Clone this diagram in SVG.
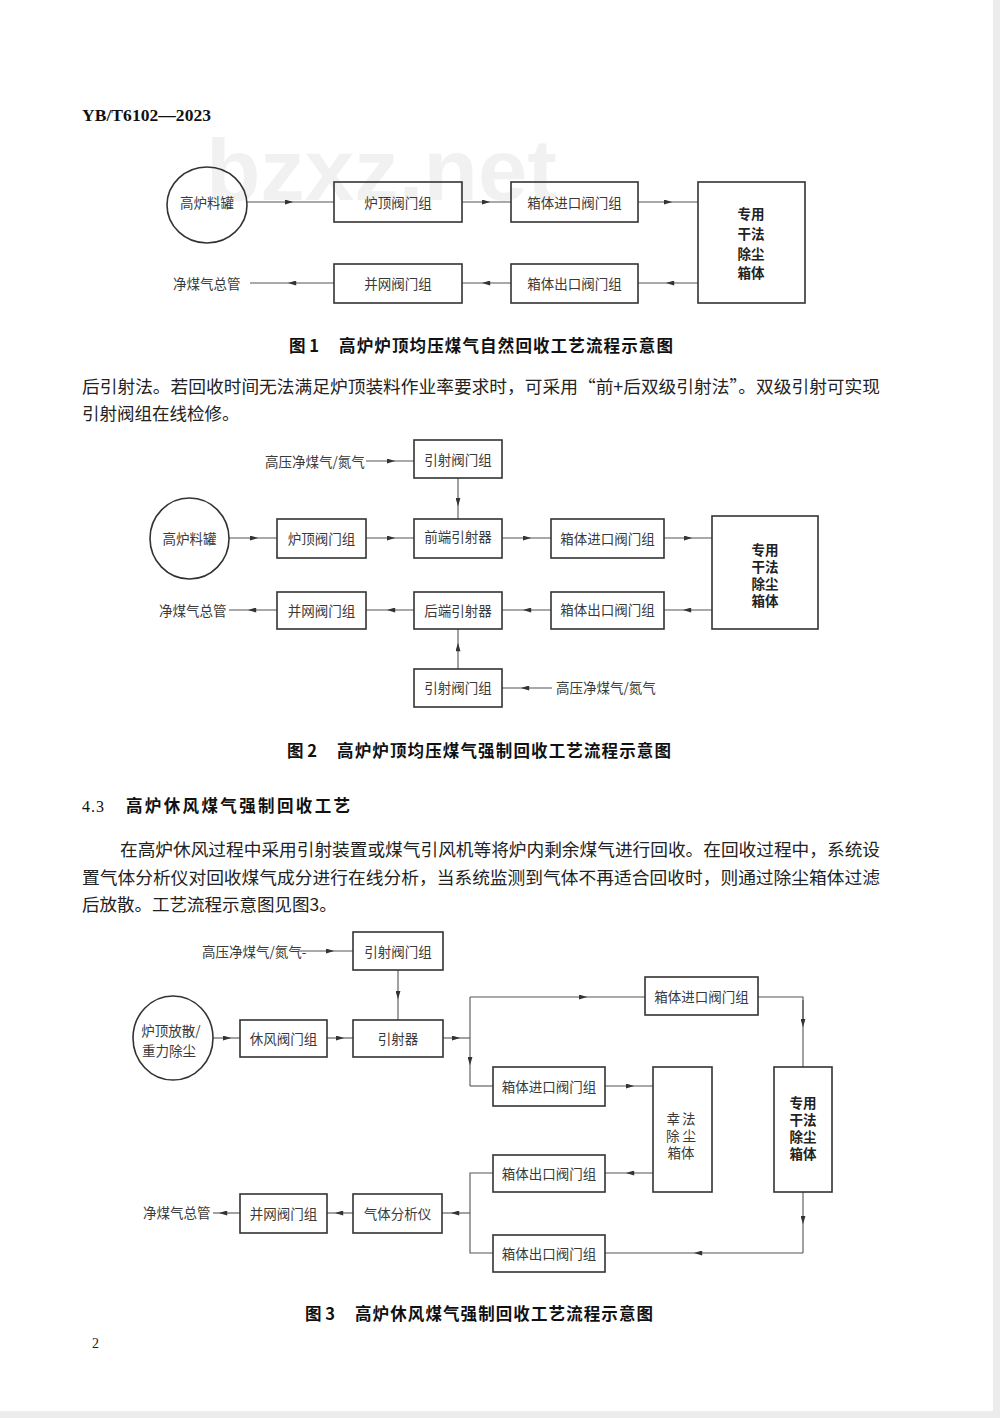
<svg xmlns="http://www.w3.org/2000/svg" width="1000" height="1418" viewBox="0 0 1000 1418">
<style>
.pg{fill:#ffffff}
.box{fill:none;stroke:#333;stroke-width:1.6}
.ln{fill:none;stroke:#555;stroke-width:1.1;marker-mid:url(#ah)}
.pl{fill:none;stroke:#555;stroke-width:1.1}
.lbl{font-family:"Noto Sans CJK SC",sans-serif;font-size:13.5px;fill:#3a3a3a;text-anchor:middle;dominant-baseline:central}
.lbs{font-family:"Noto Sans CJK SC",sans-serif;font-size:13.5px;fill:#3a3a3a;dominant-baseline:central}
.big{font-family:"Noto Sans CJK SC",sans-serif;font-size:13.5px;font-weight:bold;fill:#222;text-anchor:middle;dominant-baseline:central}
.body{font-family:"Noto Sans CJK SC",sans-serif;font-size:17.5px;fill:#222;dominant-baseline:central}
.cap{font-family:"Noto Sans CJK SC",sans-serif;font-size:16.5px;font-weight:bold;fill:#111;dominant-baseline:central}
.wm{font-family:"Liberation Sans",sans-serif;font-size:88px;font-weight:bold;fill:#f1f1f1}
</style>
<defs>
<marker id="ah" viewBox="0 0 10 6" refX="5" refY="3" markerWidth="9" markerHeight="5" markerUnits="userSpaceOnUse" orient="auto">
<path d="M0,0 L10,3 L0,6 z" fill="#333"/>
</marker>
</defs>
<rect x="0" y="0" width="1000" height="1418" fill="#ececec"/>
<rect class="pg" x="0" y="0" width="993" height="1411"/>

<text x="82" y="121" font-family="Liberation Serif,serif" font-size="17.5" font-weight="bold" fill="#111" textLength="129">YB/T6102—2023</text>
<text class="wm" x="206" y="200" textLength="351" lengthAdjust="spacingAndGlyphs">bzxz.net</text>

<!-- Figure 1 -->
<g id="fig1-connectors">
<path class="ln" d="M247,202 L289,202 L334,202"/>
<path class="ln" d="M462,202 L486,202 L511,202"/>
<path class="ln" d="M638,202 L668,202 L698,202"/>
<path class="ln" d="M698,283 L670,283 L638,283"/>
<path class="ln" d="M511,283 L486,283 L462,283"/>
<path class="ln" d="M334,283 L292,283 L250,283"/>
</g>
<g id="f1-tank"><ellipse class="box" cx="207" cy="205" rx="40" ry="38"/><text class="lbl" x="207" y="202">高炉料罐</text></g>
<g id="f1-topvalve"><rect class="box" x="334" y="182" width="128" height="40"/><text class="lbl" x="398" y="202">炉顶阀门组</text></g>
<g id="f1-inlet"><rect class="box" x="511" y="182" width="127" height="40"/><text class="lbl" x="574.5" y="202">箱体进口阀门组</text></g>
<g id="f1-dust"><rect class="box" x="698" y="182" width="107" height="121"/>
<text class="big" x="751" y="213">专用</text><text class="big" x="751" y="233">干法</text><text class="big" x="751" y="253">除尘</text><text class="big" x="751" y="272">箱体</text></g>
<g id="f1-outlet"><rect class="box" x="511" y="264" width="127" height="39"/><text class="lbl" x="574.5" y="283">箱体出口阀门组</text></g>
<g id="f1-grid"><rect class="box" x="334" y="264" width="128" height="39"/><text class="lbl" x="398" y="283">并网阀门组</text></g>
<g id="f1-main"><text class="lbs" x="173" y="283">净煤气总管</text></g>

<text class="cap" x="289" y="345">图 1</text>
<text class="cap" x="339" y="345" textLength="334">高炉炉顶均压煤气自然回收工艺流程示意图</text>

<text class="body" x="82" y="385" textLength="798" lengthAdjust="spacingAndGlyphs">后引射法。若回收时间无法满足炉顶装料作业率要求时，可采用“前+后双级引射法”。双级引射可实现</text>
<text class="body" x="82" y="412">引射阀组在线检修。</text>

<!-- Figure 2 -->
<g id="fig2-connectors">
<path class="ln" d="M366,461 L391,461 L414,461"/>
<path class="ln" d="M458,478 L458,502 L458,519"/>
<path class="ln" d="M229,538 L254,538 L277,538"/>
<path class="ln" d="M366,538 L391,538 L414,538"/>
<path class="ln" d="M502,538 L527,538 L551,538"/>
<path class="ln" d="M664,538 L688,538 L712,538"/>
<path class="ln" d="M712,610 L687,610 L664,610"/>
<path class="ln" d="M551,610 L527,610 L502,610"/>
<path class="ln" d="M414,610 L391,610 L366,610"/>
<path class="ln" d="M277,610 L252,610 L229,610"/>
<path class="ln" d="M458,669 L458,647 L458,629"/>
<path class="ln" d="M552,688 L525,688 L502,688"/>
</g>
<g id="f2-hp1"><text class="lbs" x="265" y="461">高压净煤气/氮气</text></g>
<g id="f2-ejv1"><rect class="box" x="414" y="440" width="88" height="38"/><text class="lbl" x="458" y="459">引射阀门组</text></g>
<g id="f2-tank"><ellipse class="box" cx="189.5" cy="538.5" rx="39.5" ry="40.5"/><text class="lbl" x="189.5" y="538">高炉料罐</text></g>
<g id="f2-topvalve"><rect class="box" x="277" y="519" width="89" height="39"/><text class="lbl" x="321.5" y="538">炉顶阀门组</text></g>
<g id="f2-front"><rect class="box" x="414" y="519" width="88" height="39"/><text class="lbl" x="458" y="536">前端引射器</text></g>
<g id="f2-inlet"><rect class="box" x="551" y="519" width="113" height="39"/><text class="lbl" x="607.5" y="538">箱体进口阀门组</text></g>
<g id="f2-dust"><rect class="box" x="712" y="516" width="106" height="113"/>
<text class="big" x="765" y="549">专用</text><text class="big" x="765" y="566">干法</text><text class="big" x="765" y="583">除尘</text><text class="big" x="765" y="600">箱体</text></g>
<g id="f2-outlet"><rect class="box" x="551" y="592" width="113" height="37"/><text class="lbl" x="607.5" y="609">箱体出口阀门组</text></g>
<g id="f2-rear"><rect class="box" x="414" y="592" width="88" height="37"/><text class="lbl" x="458" y="610">后端引射器</text></g>
<g id="f2-grid"><rect class="box" x="277" y="592" width="89" height="37"/><text class="lbl" x="321.5" y="610">并网阀门组</text></g>
<g id="f2-main"><text class="lbs" x="159" y="610">净煤气总管</text></g>
<g id="f2-ejv2"><rect class="box" x="414" y="669" width="88" height="38"/><text class="lbl" x="458" y="687">引射阀门组</text></g>
<g id="f2-hp2"><text class="lbs" x="556" y="687">高压净煤气/氮气</text></g>

<text class="cap" x="287" y="750">图 2</text>
<text class="cap" x="337" y="750" textLength="334">高炉炉顶均压煤气强制回收工艺流程示意图</text>

<text x="82" y="806" font-family="Liberation Serif,serif" font-size="16" letter-spacing="1" fill="#111" dominant-baseline="central">4.3</text>
<text class="cap" x="126" y="805" font-size="17.5" textLength="224">高炉休风煤气强制回收工艺</text>

<text class="body" x="120" y="848" textLength="760" lengthAdjust="spacingAndGlyphs">在高炉休风过程中采用引射装置或煤气引风机等将炉内剩余煤气进行回收。在回收过程中，系统设</text>
<text class="body" x="82" y="876" textLength="798" lengthAdjust="spacingAndGlyphs">置气体分析仪对回收煤气成分进行在线分析，当系统监测到气体不再适合回收时，则通过除尘箱体过滤</text>
<text class="body" x="82" y="903">后放散。工艺流程示意图见图3。</text>

<!-- Figure 3 -->
<g id="fig3-connectors">
<path class="ln" d="M298,951 L330,951 L353,951"/>
<path class="ln" d="M398,970 L398,995 L398,1020"/>
<path class="ln" d="M213,1038 L227,1038 L240,1038"/>
<path class="ln" d="M327,1038 L340,1038 L353,1038"/>
<path class="ln" d="M443,1038 L456,1038 L470,1038"/>
<path class="pl" d="M470,997 L470,1038"/>
<path class="ln" d="M470,1038 L470,1061 L470,1086"/>
<path class="pl" d="M470,1086 L493,1086"/>
<path class="ln" d="M470,997 L583,997 L645,997"/>
<path class="pl" d="M758,997 L803,997 L803,1023"/>
<path class="ln" d="M803,1000 L803,1023 L803,1067"/>
<path class="ln" d="M605,1086 L630,1086 L653,1086"/>
<path class="ln" d="M653,1173 L630,1173 L605,1173"/>
<path class="pl" d="M493,1173 L470,1173 L470,1253 L493,1253"/>
<path class="ln" d="M803,1192 L803,1220 L803,1253"/>
<path class="ln" d="M803,1253 L698,1253 L605,1253"/>
<path class="ln" d="M470,1213 L455,1213 L442,1213"/>
<path class="ln" d="M353,1213 L339,1213 L327,1213"/>
<path class="ln" d="M240,1213 L223,1213 L213,1213"/>
</g>
<g id="f3-hp"><text class="lbs" x="202" y="951" font-size="13">高压净煤气/氮气-</text></g>
<g id="f3-ejv"><rect class="box" x="353" y="932" width="90" height="38"/><text class="lbl" x="398" y="951">引射阀门组</text></g>
<g id="f3-src"><ellipse class="box" cx="173" cy="1038" rx="40" ry="42"/><text class="lbl" x="171" y="1030">炉顶放散/</text><text class="lbl" x="169" y="1050">重力除尘</text></g>
<g id="f3-stop"><rect class="box" x="240" y="1020" width="87" height="37"/><text class="lbl" x="283.5" y="1038">休风阀门组</text></g>
<g id="f3-ej"><rect class="box" x="353" y="1020" width="90" height="37"/><text class="lbl" x="398" y="1038">引射器</text></g>
<g id="f3-inlet1"><rect class="box" x="645" y="977" width="113" height="38"/><text class="lbl" x="701.5" y="996">箱体进口阀门组</text></g>
<g id="f3-inlet2"><rect class="box" x="493" y="1067" width="112" height="39"/><text class="lbl" x="549" y="1086">箱体进口阀门组</text></g>
<g id="f3-box2"><rect class="box" x="653" y="1067" width="59" height="125"/>
<text class="lbl" x="682" y="1118" font-size="12.5" letter-spacing="2">幸法</text><text class="lbl" x="681" y="1135" font-size="11">除 尘</text><text class="lbl" x="681" y="1152" font-size="12.5">箱体</text></g>
<g id="f3-dust"><rect class="box" x="774" y="1067" width="58" height="125"/>
<text class="big" x="803" y="1102" font-size="13">专用</text><text class="big" x="803" y="1119" font-size="13">干法</text><text class="big" x="803" y="1136" font-size="13">除尘</text><text class="big" x="803" y="1153" font-size="13">箱体</text></g>
<g id="f3-outlet1"><rect class="box" x="493" y="1155" width="112" height="37"/><text class="lbl" x="549" y="1173">箱体出口阀门组</text></g>
<g id="f3-outlet2"><rect class="box" x="493" y="1235" width="112" height="37"/><text class="lbl" x="549" y="1253">箱体出口阀门组</text></g>
<g id="f3-analyzer"><rect class="box" x="353" y="1194" width="89" height="39"/><text class="lbl" x="397.5" y="1213">气体分析仪</text></g>
<g id="f3-grid"><rect class="box" x="240" y="1194" width="87" height="39"/><text class="lbl" x="283.5" y="1213">并网阀门组</text></g>
<g id="f3-main"><text class="lbs" x="143" y="1212">净煤气总管</text></g>

<text class="cap" x="305" y="1313">图 3</text>
<text class="cap" x="355" y="1313" textLength="298">高炉休风煤气强制回收工艺流程示意图</text>

<text x="92" y="1348" font-family="Liberation Serif,serif" font-size="14" fill="#222">2</text>
</svg>
